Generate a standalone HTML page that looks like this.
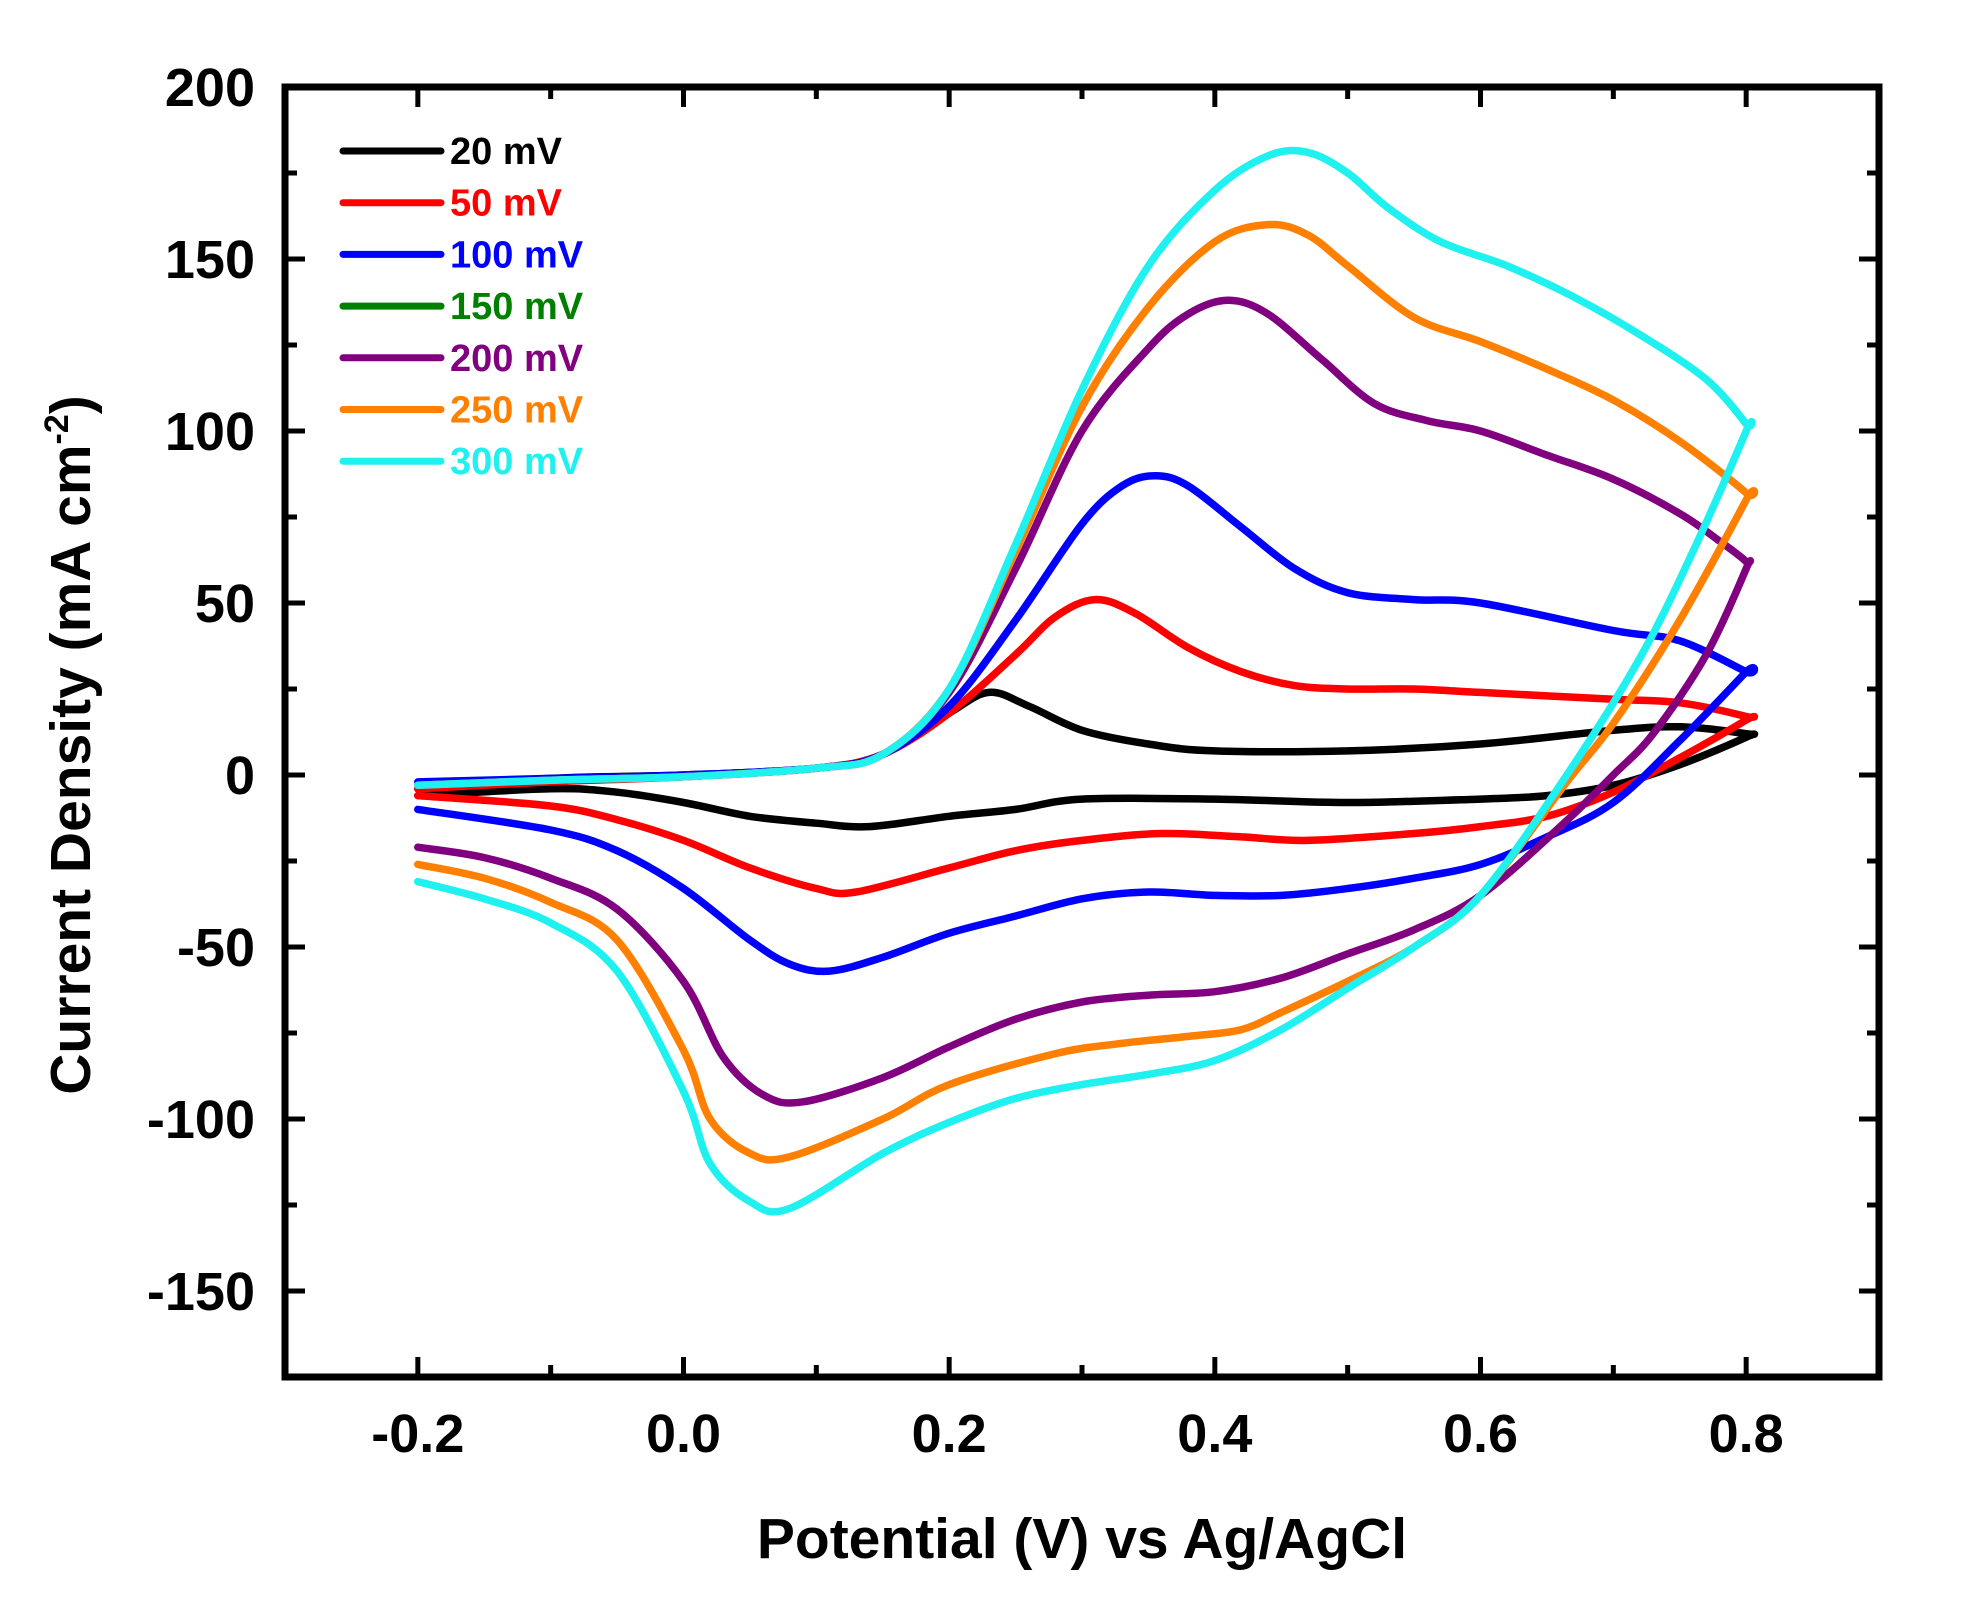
<!DOCTYPE html>
<html><head><meta charset="utf-8"><style>
html,body{margin:0;padding:0;background:#fff;}
svg{display:block;font-family:"Liberation Sans",Arial,sans-serif;font-weight:bold;}
</style></head><body>
<svg id="chart" width="1980" height="1604" viewBox="0 0 1980 1604" xmlns="http://www.w3.org/2000/svg">
<g id="curves"></g>
<g id="axes"></g>
<g id="legend"></g>
<text x="1082" y="1558" text-anchor="middle" font-size="57">Potential (V) vs Ag/AgCl</text>
<text transform="translate(90,745) rotate(-90)" text-anchor="middle" font-size="57">Current Density (mA cm<tspan dy="-22" font-size="34">-2</tspan><tspan dy="22">)</tspan></text>
</svg>
<script>
const xTicksMajor=[-0.2,0,0.2,0.4,0.6,0.8];
const xTickLabels=["-0.2","0.0","0.2","0.4","0.6","0.8"];
const yTicksMajor=[-150,-100,-50,0,50,100,150,200];
const yTickLabels=["-150","-100","-50","0","50","100","150","200"];
const seriesNames=["20 mV","50 mV","100 mV","150 mV","200 mV","250 mV","300 mV"];
const seriesColors=["#000000","#ff0000","#0000ff","#008000","#800080","#ff8000","#1ff0f0"];

const v20=[-0.2,-0.1,0,0.1,0.15,0.2,0.23,0.26,0.3,0.35,0.4,0.5,0.6,0.7,0.75,0.8,0.8,0.75,0.7,0.65,0.6,0.5,0.4,0.3,0.25,0.2,0.14,0.1,0.05,0,-0.05,-0.1,-0.2];
const i20=[-4,-1,0,2,6,18,24,20,13,9,7,7,9,13,14,12,11,3,-3,-6,-7,-8,-7,-7,-10,-12,-15,-14,-12,-8,-5,-4,-6];
const v50=[-0.2,-0.1,0,0.1,0.15,0.2,0.25,0.28,0.31,0.34,0.38,0.42,0.46,0.5,0.55,0.6,0.7,0.75,0.8,0.8,0.75,0.7,0.65,0.6,0.55,0.47,0.42,0.36,0.3,0.25,0.2,0.13,0.1,0.05,0,-0.05,-0.1,-0.2];
const i50=[-4,-2,-0.5,2,6,18,35,46,51,47,37,30,26,25,25,24,22,21,17,16,5,-5,-12,-15,-17,-19,-18,-17,-19,-22,-27,-34,-33,-27,-19,-13,-9,-6];
const v100=[-0.2,-0.1,0,0.1,0.15,0.2,0.25,0.3,0.33,0.355,0.38,0.42,0.46,0.5,0.55,0.6,0.7,0.75,0.8,0.8,0.75,0.7,0.65,0.6,0.55,0.5,0.45,0.4,0.35,0.3,0.25,0.2,0.15,0.11,0.08,0.05,0,-0.05,-0.1,-0.2];
const i100=[-2,-1,0,2,6,20,45,73,84,87,84,72,60,53,51,50,42,39,30,30,10,-8,-18,-26,-30,-33,-35,-35,-34,-36,-41,-46,-53,-57,-55,-48,-33,-22,-16,-10];
const v150=[];
const i150=[];
const v200=[-0.2,-0.1,0,0.1,0.15,0.2,0.25,0.3,0.35,0.38,0.41,0.44,0.48,0.52,0.56,0.6,0.65,0.7,0.75,0.78,0.8,0.8,0.77,0.73,0.7,0.66,0.6,0.55,0.5,0.45,0.4,0.35,0.3,0.25,0.2,0.15,0.09,0.06,0.03,0,-0.05,-0.1,-0.15,-0.2];
const i200=[-3,-1.5,-0.5,2,6,24,60,100,124,134,138,134,121,108,103,100,93,86,76,68,62,60,35,12,0,-15,-35,-45,-52,-59,-63,-64,-66,-71,-79,-88,-95,-93,-82,-60,-39,-30,-24,-21];
const v250=[-0.2,-0.1,0,0.1,0.15,0.2,0.25,0.3,0.35,0.4,0.44,0.47,0.5,0.55,0.6,0.65,0.7,0.75,0.8,0.8,0.75,0.7,0.665,0.6,0.55,0.5,0.45,0.42,0.38,0.33,0.28,0.2,0.15,0.08,0.05,0.02,0,-0.05,-0.1,-0.15,-0.2];
const i250=[-3,-1.5,-0.5,2,6,25,65,107,136,155,160,157,148,133,126,118,109,97,82,80,45,15,-2,-35,-50,-60,-69,-74,-76,-78,-81,-90,-100,-111,-110,-100,-80,-48,-37,-30,-26];
const v300=[-0.2,-0.1,0,0.1,0.15,0.2,0.25,0.3,0.35,0.4,0.44,0.47,0.5,0.53,0.57,0.62,0.67,0.72,0.77,0.8,0.8,0.76,0.72,0.665,0.6,0.55,0.5,0.45,0.4,0.35,0.3,0.25,0.2,0.15,0.08,0.05,0.02,0,-0.05,-0.1,-0.15,-0.2];
const i300=[-3,-1.5,-0.5,2,6,25,67,112,148,170,180,181,175,165,155,148,139,128,115,102,100,65,34,0,-35,-50,-62,-74,-83,-87,-90,-94,-101,-110,-126,-124,-113,-92,-57,-43,-36,-31];

const seriesV=[v20,v50,v100,v150,v200,v250,v300];
const seriesI=[i20,i50,i100,i150,i200,i250,i300];

const L=285,R=1879,T=87,B=1377,XMIN=-0.3,XMAX=0.9,YMIN=-175,YMAX=200;
const sx=v=>L+(v-XMIN)/(XMAX-XMIN)*(R-L);
const sy=v=>B-(v-YMIN)/(YMAX-YMIN)*(B-T);
const NS="http://www.w3.org/2000/svg";
function mk(tag,attrs,parent){const e=document.createElementNS(NS,tag);for(const k in attrs)e.setAttribute(k,attrs[k]);parent.appendChild(e);return e;}

const curves=document.getElementById('curves');
seriesV.forEach((vs,s)=>{
  if(vs.length<2)return;
  const pts=vs.map((v,k)=>[sx(v),sy(seriesI[s][k])]);
  let d="M"+pts[0][0].toFixed(1)+","+pts[0][1].toFixed(1);
  for(let k=0;k<pts.length-1;k++){
    const p0=pts[Math.max(k-1,0)],p1=pts[k],p2=pts[k+1],p3=pts[Math.min(k+2,pts.length-1)];
    const c1=[p1[0]+(p2[0]-p0[0])/6,p1[1]+(p2[1]-p0[1])/6];
    const c2=[p2[0]-(p3[0]-p1[0])/6,p2[1]-(p3[1]-p1[1])/6];
    d+=" C"+c1[0].toFixed(1)+","+c1[1].toFixed(1)+" "+c2[0].toFixed(1)+","+c2[1].toFixed(1)+" "+p2[0].toFixed(1)+","+p2[1].toFixed(1);
  }
  const p=mk('path',{d:d,fill:'none',stroke:seriesColors[s],'stroke-width':7.5,'stroke-linejoin':'round','stroke-linecap':'round'},curves);
  
  
});

const axes=document.getElementById('axes');
const frame=mk('rect',{x:L,y:T,width:R-L,height:B-T,fill:'none',stroke:'#000','stroke-width':7},axes);


for(let k=-3;k<=9;k++){
  const v=k/10,x=sx(v),major=(k%2===0),len=major?20:12;
  if(k===-3||k===9)continue;
  mk('line',{x1:x,y1:B,x2:x,y2:B-len,stroke:'#000','stroke-width':5},axes);
  mk('line',{x1:x,y1:T,x2:x,y2:T+len,stroke:'#000','stroke-width':5},axes);
}
xTicksMajor.forEach((v,k)=>{
  const t=mk('text',{x:sx(v),y:1452,'text-anchor':'middle','font-size':54},axes);
  t.textContent=xTickLabels[k];
  
  
});
for(let v=-150;v<200;v+=25){
  const y=sy(v),major=(v%50===0),len=major?20:12;
  mk('line',{x1:L,y1:y,x2:L+len,y2:y,stroke:'#000','stroke-width':5},axes);
  mk('line',{x1:R,y1:y,x2:R-len,y2:y,stroke:'#000','stroke-width':5},axes);
}
yTicksMajor.forEach((v,k)=>{
  const t=mk('text',{x:255,y:sy(v)+19,'text-anchor':'end','font-size':54},axes);
  t.textContent=yTickLabels[k];
  
  
});

const legend=document.getElementById('legend');
seriesNames.forEach((n,k)=>{
  const y=151+k*51.7;
  const g=mk('g',{},legend);
  
  
  mk('line',{x1:343,y1:y,x2:441,y2:y,stroke:seriesColors[k],'stroke-width':7,'stroke-linecap':'round'},g);
  const t=mk('text',{x:450,y:y+13,'font-size':38,fill:seriesColors[k]},g);
  t.textContent=n;
});
</script>
</body></html>
